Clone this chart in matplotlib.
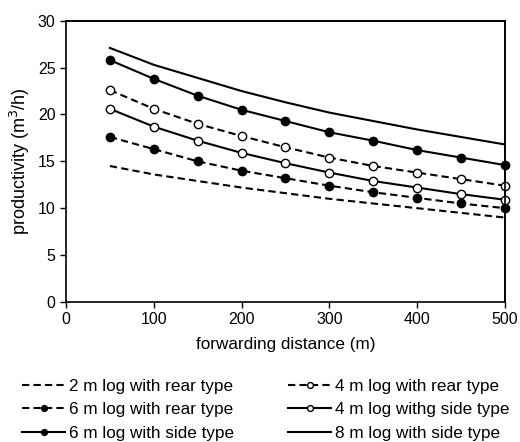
import matplotlib
matplotlib.use("Agg")
from matplotlib import pyplot as plt
from matplotlib.lines import Line2D

plt.rcParams['font.family'] = ['Liberation Sans', 'DejaVu Sans']

distance = [50, 100, 150, 200, 250, 300, 350, 400, 450, 500]

# productivity (m3/h) per series
rear_2m = [14.5, 13.6, 12.9, 12.2, 11.6, 11.0, 10.5, 10.0, 9.5, 9.0]
rear_4m = [22.6, 20.6, 19.0, 17.7, 16.5, 15.4, 14.5, 13.8, 13.1, 12.4]
rear_6m = [17.6, 16.3, 15.0, 14.0, 13.2, 12.4, 11.7, 11.1, 10.5, 10.0]
side_4m = [20.6, 18.7, 17.2, 15.9, 14.8, 13.8, 12.9, 12.2, 11.5, 10.9]
side_6m = [25.8, 23.8, 22.0, 20.5, 19.3, 18.1, 17.2, 16.2, 15.4, 14.6]
side_8m = [27.1, 25.3, 23.9, 22.5, 21.3, 20.2, 19.3, 18.4, 17.6, 16.8]

labels = ["2 m log with rear type", "4 m log with rear type",
          "6 m log with rear type", "4 m log withg side type",
          "6 m log with side type", "8 m log with side type"]

fig = plt.figure(figsize=(5.2, 4.42), dpi=100)
ax = fig.add_axes([0.127, 0.317, 0.844, 0.636])

dash = (0, (3.5, 2))
ax.plot(distance, rear_2m, color='black', lw=1.5, linestyle=dash, label=labels[0])
ax.plot(distance, rear_4m, color='black', lw=1.5, linestyle=dash, marker='o',
        markersize=6, markerfacecolor='white', markeredgewidth=1, label=labels[1],
        clip_on=False)
ax.plot(distance, rear_6m, color='black', lw=1.5, linestyle=dash, marker='o',
        markersize=6, markerfacecolor='black', label=labels[2], clip_on=False)
ax.plot(distance, side_4m, color='black', lw=1.5, marker='o',
        markersize=6, markerfacecolor='white', markeredgewidth=1, label=labels[3],
        clip_on=False)
ax.plot(distance, side_6m, color='black', lw=1.5, marker='o',
        markersize=6, markerfacecolor='black', label=labels[4], clip_on=False)
ax.plot(distance, side_8m, color='black', lw=1.5, label=labels[5])

ax.set_xlim(0, 500)
ax.set_ylim(0, 30)
ax.set_xticks([0, 100, 200, 300, 400, 500])
ax.set_yticks([0, 5, 10, 15, 20, 25, 30])
ax.tick_params(labelsize=11.5, length=4, width=1, direction='out')
for side in ['left', 'bottom', 'top', 'right']:
    ax.spines[side].set_visible(True)
    ax.spines[side].set_linewidth(1.2)
    ax.spines[side].set_edgecolor('black')
# top and right frame lines drawn explicitly as well
for xs, ys in [([0, 1], [1, 1]), ([1, 1], [0, 1])]:
    ax.add_line(Line2D(xs, ys, transform=ax.transAxes, color='black',
                       lw=1.2, clip_on=False, zorder=1))
ax.set_xlabel("forwarding distance (m)", fontsize=12.3, labelpad=7)
ax.set_ylabel("productivity (m$^3$/h)", fontsize=13, labelpad=4)

handles, labs = ax.get_legend_handles_labels()
# order into two columns like the reference
order = [0, 2, 4, 1, 3, 5]
fig.legend([handles[i] for i in order], [labs[i] for i in order],
           loc='upper left', bbox_to_anchor=(0.03, 0.159), ncol=2,
           frameon=False, fontsize=12.3, handlelength=2.5, handletextpad=0.25,
           columnspacing=3.15, labelspacing=0.5, markerscale=0.7,
           borderaxespad=0)

fig.savefig("out.png", dpi=100)
